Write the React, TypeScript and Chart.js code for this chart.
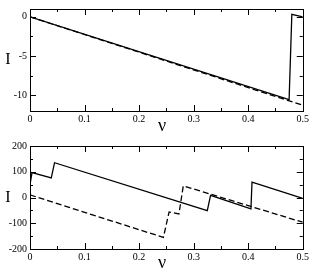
import React, { useEffect, useRef } from "react";
import { Chart, registerables } from "chart.js";

Chart.register(...registerables);

// Top panel data
const topNu = [0, 0.475, 0.48, 0.5];
const topSolid = [0, -10.55, 0.32, 0.0];
const topDashNu = [0, 0.5];
const topDash = [0, -11.27];

// Bottom panel data
const botNu = [0, 0.0037, 0.039, 0.045, 0.325, 0.331, 0.405, 0.407, 0.5];
const botSolid = [51, 97, 76, 135, -51, 8, -44, 60, -3];
const botDashNu = [0, 0.2445, 0.255, 0.273, 0.281, 0.5];
const botDash = [10, -155, -56, -64, 45, -96];

const xTicks = [0, 0.1, 0.2, 0.3, 0.4, 0.5];
const topYTicks = [-10, -5, 0];
const botYTicks = [-200, -100, 0, 100, 200];

const FONT = "'Liberation Serif', 'DejaVu Serif', serif";

function pts(xs: number[], ys: number[]) {
  return xs.map((x, i) => ({ x, y: ys[i] }));
}

const framePlugin = {
  id: "frame",
  afterDraw(chart: any, _args: any, opts: any) {
    const { ctx, chartArea: a, scales } = chart;
    const xs = scales.x;
    const ys = scales.y;
    ctx.save();
    ctx.strokeStyle = "#000";
    ctx.lineWidth = 1;
    ctx.strokeRect(Math.round(a.left) + 0.5, Math.round(a.top) + 0.5, Math.round(a.right - a.left), Math.round(a.bottom - a.top));
    const major = 6;
    const minor = 3;
    ctx.beginPath();
    const xt: number[] = opts.xTicks;
    for (let i = 0; i < xt.length; i++) {
      const v = xt[i];
      const px = Math.round(xs.getPixelForValue(v)) + 0.5;
      if (i > 0 && i < xt.length - 1) {
        ctx.moveTo(px, a.bottom); ctx.lineTo(px, a.bottom - major);
        ctx.moveTo(px, a.top); ctx.lineTo(px, a.top + major);
      }
      if (i < xt.length - 1) {
        const m = Math.round(xs.getPixelForValue((v + xt[i + 1]) / 2)) + 0.5;
        ctx.moveTo(m, a.bottom); ctx.lineTo(m, a.bottom - minor);
        ctx.moveTo(m, a.top); ctx.lineTo(m, a.top + minor);
      }
    }
    const yt: number[] = opts.yTicks;
    const ymin = ys.min, ymax = ys.max;
    const step = yt[1] - yt[0];
    const drawY = (v: number, len: number) => {
      if (v <= ymin || v >= ymax) return;
      const py = Math.round(ys.getPixelForValue(v)) + 0.5;
      ctx.moveTo(a.left, py); ctx.lineTo(a.left + len, py);
      ctx.moveTo(a.right, py); ctx.lineTo(a.right - len, py);
    };
    for (let v = yt[0] - step; v <= yt[yt.length - 1] + step; v += step) {
      drawY(v, major);
      drawY(v + step / 2, minor);
    }
    ctx.stroke();
    // axis titles
    ctx.fillStyle = "#000";
    ctx.textAlign = "center";
    ctx.textBaseline = "middle";
    ctx.font = "16px " + FONT;
    ctx.fillText("I", 8, (a.top + a.bottom) / 2);
    ctx.font = "18px " + FONT;
    ctx.fillText("\u03bd", opts.nuX, opts.nuY);
    ctx.restore();
  },
};

function makeConfig(
  solid: { x: number; y: number }[],
  dash: { x: number; y: number }[],
  ymin: number,
  ymax: number,
  yTicks: number[],
  padTop: number,
  xHeight: number,
  nuY: number
): any {
  return {
    type: "line",
    data: {
      datasets: [
        { data: solid, borderColor: "#000", borderWidth: 1.3, pointRadius: 0, tension: 0, fill: false },
        { data: dash, borderColor: "#000", borderWidth: 1.3, borderDash: [6, 3], pointRadius: 0, tension: 0, fill: false },
      ],
    },
    options: {
      animation: false,
      responsive: false,
      events: [],
      layout: { padding: { left: 0, right: 7, top: padTop, bottom: 0 } },
      plugins: {
        legend: { display: false },
        tooltip: { enabled: false },
        frame: { xTicks, yTicks, nuX: 162, nuY },
      },
      scales: {
        x: {
          type: "linear",
          min: 0,
          max: 0.5,
          grid: { display: false, drawTicks: false },
          border: { display: false },
          afterBuildTicks: (s: any) => { s.ticks = xTicks.map((v) => ({ value: v })); },
          afterFit: (s: any) => { s.height = xHeight; },
          ticks: {
            padding: 2,
            maxRotation: 0,
            autoSkip: false,
            color: "#000",
            font: { family: FONT, size: 10 },
            callback: (v: number) => (v === 0 ? "0" : v.toFixed(1)),
          },
        },
        y: {
          type: "linear",
          min: ymin,
          max: ymax,
          grid: { display: false, drawTicks: false },
          border: { display: false },
          afterBuildTicks: (s: any) => { s.ticks = yTicks.map((v) => ({ value: v })); },
          afterFit: (s: any) => { s.width = 30; },
          ticks: {
            padding: 3,
            autoSkip: false,
            color: "#000",
            font: { family: FONT, size: 10 },
            callback: (v: number) => String(v),
          },
        },
      },
    },
    plugins: [framePlugin],
  };
}

export default function App() {
  const topRef = useRef<HTMLCanvasElement>(null);
  const botRef = useRef<HTMLCanvasElement>(null);

  useEffect(() => {
    const c1 = new Chart(
      topRef.current!,
      makeConfig(pts(topNu, topSolid), pts(topDashNu, topDash), -12, 1, topYTicks, 1, 26, 126)
    );
    const c2 = new Chart(
      botRef.current!,
      makeConfig(pts(botNu, botSolid), pts(botDashNu, botDash), -200, 200, botYTicks, 4, 24, 126)
    );
    return () => {
      c1.destroy();
      c2.destroy();
    };
  }, []);

  return (
    <div style={{ position: "fixed", left: 0, top: 0, width: 311, height: 273, background: "#fff" }}>
      <canvas ref={topRef} width={311} height={137} style={{ position: "absolute", left: 0, top: 0, width: 311, height: 137 }} />
      <canvas ref={botRef} width={311} height={136} style={{ position: "absolute", left: 0, top: 137, width: 311, height: 136 }} />
    </div>
  );
}
